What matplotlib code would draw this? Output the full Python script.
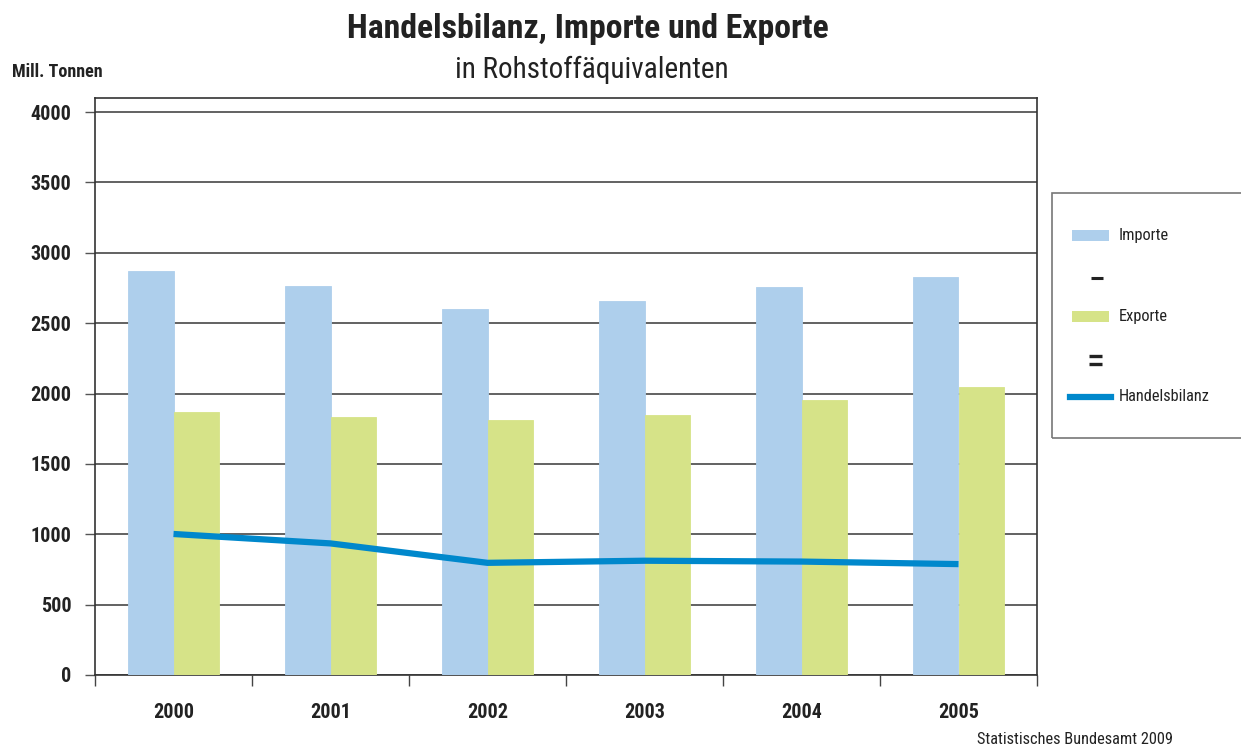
import matplotlib
matplotlib.use("Agg")
import matplotlib.pyplot as plt
from matplotlib.patches import Rectangle
from matplotlib.lines import Line2D
from matplotlib import font_manager
import numpy as np

years = ["2000", "2001", "2002", "2003", "2004", "2005"]
importe = [2870, 2765, 2600, 2655, 2755, 2830]
exporte = [1868, 1833, 1812, 1847, 1954, 2046]
handelsbilanz = [1002, 935, 797, 812, 806, 788]
yticks = [0, 500, 1000, 1500, 2000, 2500, 3000, 3500, 4000]

names = sorted({f.name for f in font_manager.fontManager.ttflist})
cands = ["Roboto Condensed", "Liberation Sans Narrow", "Roboto"]
FONT = [c for c in cands if c in names][:1] + ["DejaVu Sans"]
plt.rcParams["font.family"] = FONT

c_imp = "#aecfec"
c_exp = "#d6e388"
c_line = "#0088cc"
TXT = "#222222"

fig = plt.figure(figsize=(12.41, 7.47), dpi=100)
ax = fig.add_axes([95/1241, 1-675/747, (1037-95)/1241, (675-98)/747])

x = np.arange(len(years))
w = 0.287
ax.bar(x - w/2, importe, w, color=c_imp, ec=c_imp, lw=0.6, zorder=3)
ax.bar(x + w/2, exporte, w, color=c_exp, ec=c_exp, lw=0.6, zorder=3)
ax.plot(x, handelsbilanz, color=c_line, lw=4.5, zorder=4, solid_capstyle="butt")

ax.set_xlim(-0.5, len(years) - 0.5)
ax.set_ylim(0, 4100)
ax.set_yticks(yticks)
ax.set_yticklabels([str(v) for v in yticks], fontsize=14.5, fontweight="bold", color=TXT)
ax.yaxis.grid(True, color="#555555", lw=1.3, zorder=1)
ax.tick_params(axis="y", length=7, width=1, color="#555555", pad=10)

ax.set_xticks(x)
ax.set_xticklabels(years, fontsize=14.5, fontweight="bold", color=TXT)
ax.tick_params(axis="x", length=0, pad=20)
ax.set_xticks(np.arange(-0.5, len(years)), minor=True)
ax.tick_params(axis="x", which="minor", length=8, width=1, color="#444444")

for s in ax.spines.values():
    s.set_color("#333333")
    s.set_linewidth(1.2)

fig.text(588/1241, 1-29/747, "Handelsbilanz, Importe und Exporte", ha="center", va="center",
         fontsize=24.3, fontweight="bold", color=TXT)
fig.text(592/1241, 1-70/747, "in Rohstoffäquivalenten", ha="center", va="center",
         fontsize=21, fontweight="normal", color=TXT)
fig.text(12/1241, 1-72/747, "Mill. Tonnen", ha="left", va="center",
         fontsize=13, fontweight="bold", color=TXT)
fig.text(1173/1241, 1-739/747, "Statistisches Bundesamt 2009", ha="right", va="center",
         fontsize=11.8, fontweight="normal", color=TXT)

# legend box
W, H = 1241, 747
def fx(px): return px / W
def fy(py): return 1 - py / H
fig.patches.append(Rectangle((fx(1052), fy(438)), fx(1250) - fx(1052), fy(193) - fy(438),
                             transform=fig.transFigure, fill=False, ec="#777777", lw=1.2))
fig.patches.append(Rectangle((fx(1072), fy(241)), fx(37), 11/H, transform=fig.transFigure,
                             fc=c_imp, ec="none"))
fig.text(fx(1119), fy(236), "Importe", fontsize=11.8, va="center", ha="left", color=TXT)
fig.lines.append(Line2D([fx(1091), fx(1103)], [fy(278), fy(278)], transform=fig.transFigure,
                        color=TXT, lw=2.2, solid_capstyle="butt"))
fig.patches.append(Rectangle((fx(1072), fy(322)), fx(37), 11/H, transform=fig.transFigure,
                             fc=c_exp, ec="none"))
fig.text(fx(1119), fy(317), "Exporte", fontsize=11.8, va="center", ha="left", color=TXT)
for yy in (356, 364):
    fig.lines.append(Line2D([fx(1089), fx(1102)], [fy(yy), fy(yy)], transform=fig.transFigure,
                            color=TXT, lw=2.4, solid_capstyle="butt"))
fig.lines.append(Line2D([fx(1070), fx(1111)], [fy(397), fy(397)], transform=fig.transFigure,
                        color=c_line, lw=4.5))
fig.text(fx(1119), fy(397), "Handelsbilanz", fontsize=11.8, va="center", ha="left", color=TXT)

fig.savefig("out.png", dpi=100)
